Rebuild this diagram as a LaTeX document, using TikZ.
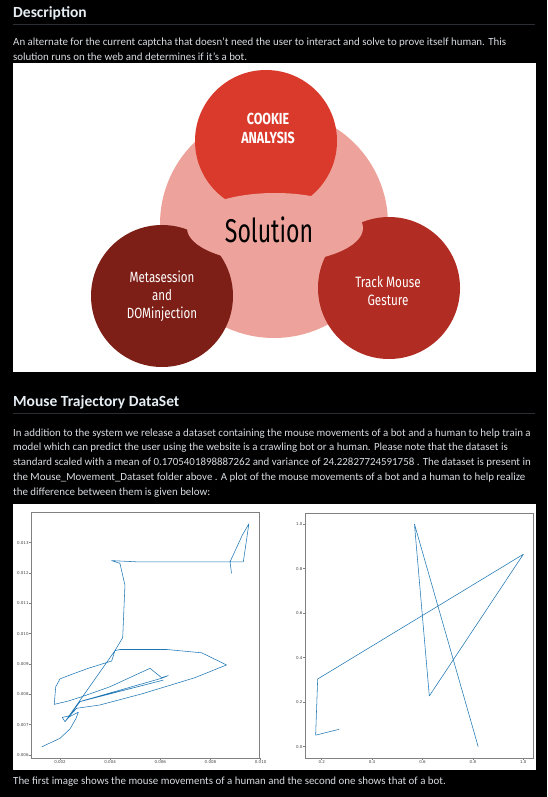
\documentclass[tikz,border=0pt]{standalone}
\usepackage{fontspec}
\setmainfont{Carlito}
\newfontfamily\oswald[FakeStretch=0.78]{Fira Sans}
\newfontfamily\oswaldnarrow[FakeStretch=0.7]{Fira Sans}
\newfontfamily\tickfont{DejaVu Sans}
\usetikzlibrary{positioning}
\definecolor{headfg}{HTML}{E6EDF3}
\definecolor{bodyfg}{HTML}{D8DDE2}
\definecolor{rulecol}{HTML}{2B2F33}
\definecolor{mplblue}{HTML}{1F77B4}
\definecolor{tickfg}{HTML}{444444}
\definecolor{cookiered}{HTML}{DA3A2C}
\definecolor{metared}{HTML}{7E1F17}
\definecolor{trackred}{HTML}{B12C22}
\definecolor{solpink}{HTML}{EDA39B}
\tikzstyle{heading} = [anchor=base west, inner sep=0pt, text=headfg, font=\bfseries\fontsize{15.5}{18}\selectfont]
\tikzstyle{para} = [anchor=base west, inner sep=0pt, text=bodyfg, font=\fontsize{10.9}{13}\selectfont]
\tikzstyle{rule} = [draw=rulecol, line width=0.8pt]
\tikzstyle{panel} = [fill=white]
\tikzstyle{frame} = [draw=gray, line width=0.5pt]
\tikzstyle{trace} = [draw=mplblue, line width=0.55pt, line join=round]
\tikzstyle{ticklabel} = [inner sep=0.6pt, text=tickfg, font=\tickfont\fontsize{4}{4}\selectfont]
\tikzstyle{bubble} = [text=white, align=center, inner sep=0pt, font=\oswald\fontsize{15}{18.5}\selectfont]

\begin{document}
\begin{tikzpicture}[x=1pt, y=-1pt]
    \useasboundingbox (0,0) rectangle (547,797);
    \fill[black] (0,0) rectangle (547,797);

    % Description
    \node [heading] (deschead) at (13,17.5) {Description};
    \draw [rule] (13,24) -- (535,24);
    \node [para] (desc1) at (13,45.3) {An alternate for the current captcha that doesn't need the user to interact and solve to prove itself human. This};
    \node [para] (desc2) at (13,60.3) {solution runs on the web and determines if it's a bot.};

    % Solution diagram
    \fill [panel] (13,63) rectangle (536,372);
    \fill [solpink] (274,224) circle (114);
    \fill [cookiered] (266,141) circle (71);
    \fill [metared] (162,296) circle (71);
    \fill [trackred] (389,288) circle (71);
    \fill [solpink] (275,228) ellipse [x radius=88, y radius=35];
    \node [bubble, font=\oswald\bfseries\fontsize{16}{19}\selectfont] (cookie) at (268,128) {COOKIE\\ANALYSIS};
    \node [text=black, inner sep=0pt, font=\oswaldnarrow\fontsize{33}{36}\selectfont] (solution) at (269,230) {Solution};
    \node [bubble, font=\oswald\fontsize{14.8}{18}\selectfont] (meta) at (162,296) {Metasession\\and\\DOMinjection};
    \node [bubble] (track) at (388,291) {Track Mouse\\Gesture};

    % Mouse Trajectory DataSet
    \node [heading] (mousehead) at (13,406.5) {Mouse Trajectory DataSet};
    \draw [rule] (13,413.5) -- (535,413.5);
    \node [para] (mouse1) at (13,436) {In addition to the system we release a dataset containing the mouse movements of a bot and a human to help train a};
    \node [para] (mouse2) at (13,450.5) {model which can predict the user using the website is a crawling bot or a human. Please note that the dataset is};
    \node [para] (mouse3) at (13,465.5) {standard scaled with a mean of 0.1705401898887262 and variance of 24.22827724591758 . The dataset is present in};
    \node [para] (mouse4) at (13,480.3) {the Mouse\_Movement\_Dataset folder above . A plot of the mouse movements of a bot and a human to help realize};
    \node [para] (mouse5) at (13,495) {the difference between them is given below:};

    % Plots
    \fill [panel] (13,504) rectangle (536,770);

    % Human
    \begin{scope}[shift={(9.83,937)}, x=25.08pt, y=30.33pt]
        \draw [frame] (0.86,5.9) rectangle (9.94,13.99);
        \foreach \v/\t [count=\i] in {6/0.006,7/0.007,8/0.008,9/0.009,10/0.010,11/0.011,12/0.012,13/0.013}
            \draw [frame] (0.86,\v) -- ++(-2pt,0) node [ticklabel, anchor=east] (hy\i) {\t};
        \foreach \v/\t [count=\i] in {2/0.002,4/0.004,6/0.006,8/0.008,10/0.010}
            \draw [frame] (\v,5.9) -- ++(0,-2pt) node [ticklabel, anchor=north] (hx\i) {\t};
        \draw [trace] plot coordinates {(1.27,6.27) (2.00,6.55) (2.40,6.86) (2.64,7.21) (2.73,7.41)
            (2.37,7.26) (2.20,7.10) (2.09,7.24) (2.40,7.30) (2.66,7.54) (3.59,7.65) (5.32,8.03)
            (7.38,8.55) (8.64,8.97) (7.65,9.37) (6.25,9.48) (4.39,9.48) (4.19,9.44) (4.06,9.10)
            (3.13,8.86) (2.47,8.66) (2.00,8.51) (1.83,8.25) (1.77,7.67) (2.33,7.78) (2.86,7.92)
            (3.99,8.25) (5.59,8.86) (6.05,8.55) (6.32,8.62) (6.05,8.53) (2.86,7.78) (6.12,8.47)
            (2.80,7.76) (2.20,7.10) (4.19,9.44) (4.50,9.87) (4.59,11.60) (4.39,12.32) (4.06,12.41)
            (5.06,12.37) (8.78,12.37) (9.31,12.37) (9.53,13.62) (9.27,13.25) (8.78,12.37) (8.84,11.99)};
    \end{scope}

    % Bot
    \begin{scope}[shift={(271.3,746.7)}, x=252pt, y=222.7pt]
        \draw [frame] (0.135,-0.05) rectangle (1.041,1.05);
        \foreach \v/\t [count=\i] in {0/0.0,0.2/0.2,0.4/0.4,0.6/0.6,0.8/0.8,1/1.0}
            \draw [frame] (0.135,\v) -- ++(-2pt,0) node [ticklabel, anchor=east] (by\i) {\t};
        \foreach \v/\t [count=\i] in {0.2/0.2,0.4/0.4,0.6/0.6,0.8/0.8,1/1.0}
            \draw [frame] (\v,-0.05) -- ++(0,-2pt) node [ticklabel, anchor=north] (bx\i) {\t};
        \draw [trace] plot coordinates {(0.269,0.078) (0.176,0.052) (0.184,0.304) (1.0,0.864)
            (0.627,0.228) (0.568,1.0) (0.821,0.0)};
    \end{scope}

    \node [para] (closing) at (13,784) {The first image shows the mouse movements of a human and the second one shows that of a bot.};
\end{tikzpicture}
\end{document}
